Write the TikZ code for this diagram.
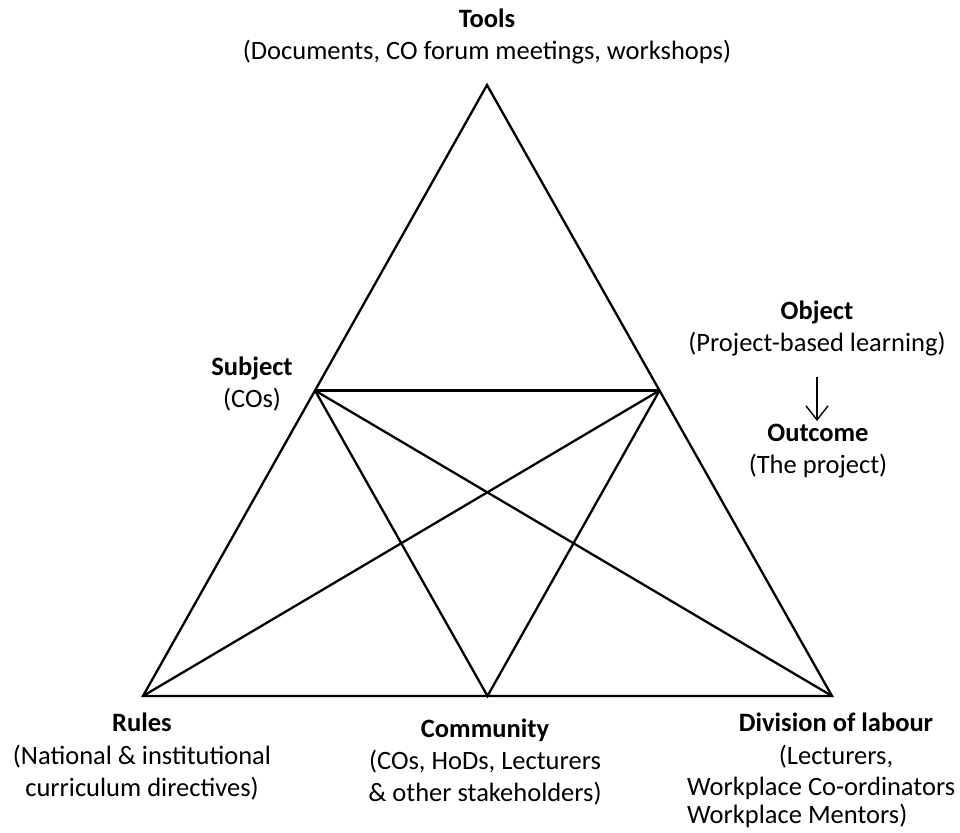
\documentclass[tikz,border=0pt]{standalone}
\usepackage{fontspec}
\setmainfont{Carlito}
\usetikzlibrary{arrows.meta,calc}
\begin{document}
\begin{tikzpicture}[x=1pt,y=-1pt,
  edge/.style={line width=2.3pt,line cap=round,line join=miter},
  lbl/.style={anchor=base,inner sep=0pt,font=\fontsize{26.5}{32}\selectfont},
  head/.style={lbl,font=\fontsize{26.5}{32}\selectfont\bfseries},
  flow/.style={line width=1.4pt,-{Straight Barb[length=14pt,width=22pt,line width=1.4pt]}}]
\useasboundingbox (0,0) rectangle (960,832);

% corners of the activity triangle and the side midpoints
\coordinate (tools) at (487,85);
\coordinate (rules) at (143,696);
\coordinate (division) at (832,696);
\coordinate (community) at ($(rules)!0.5!(division)$);
\coordinate (subject) at ($(tools)!0.5!(rules)$);
\coordinate (object) at ($(tools)!0.5!(division)$);

% triangle and inner connections
\draw[edge] (tools) -- (rules) -- (division) -- cycle;
\draw[edge] (subject) -- (object);
\draw[edge] (subject) -- (community) -- (object);
\draw[edge] (subject) -- (division);
\draw[edge] (object) -- (rules);

% labels
\node[head] (toolsT) at (487,28) {Tools};
\node[lbl]  (toolsD) at (487,60) {(Documents, CO forum meetings, workshops)};

\node[head] (subjT) at (252,375) {Subject};
\node[lbl]  (subjD) at (252,407) {(COs)};

\node[head] (objT) at (817,319) {Object};
\node[lbl]  (objD) at (817,351) {(Project-based learning)};
\coordinate (arrTop) at (817,377);
\coordinate (arrBot) at (817,421);
\draw[flow] (arrTop) -- (arrBot);
\node[head] (outT) at (818,441) {Outcome};
\node[lbl]  (outD) at (818,473) {(The project)};

\node[head] (rulesT) at (142,731) {Rules};
\node[lbl]  (rulesD1) at (142,764) {(National \& institutional};
\node[lbl]  (rulesD2) at (142,796) {curriculum directives)};

\node[head] (commT) at (485,737) {Community};
\node[lbl]  (commD1) at (485,769) {(COs, HoDs, Lecturers};
\node[lbl]  (commD2) at (485,801) {\& other stakeholders)};

\node[head] (divT) at (836,731) {Division of labour};
\node[lbl]  (divD1) at (836,764) {(Lecturers,};
\node[lbl,anchor=base west] (divD2) at (687,795) {Workplace Co-ordinators};
\node[lbl,anchor=base west] (divD3) at (687,823) {Workplace Mentors)};
\end{tikzpicture}
\end{document}
